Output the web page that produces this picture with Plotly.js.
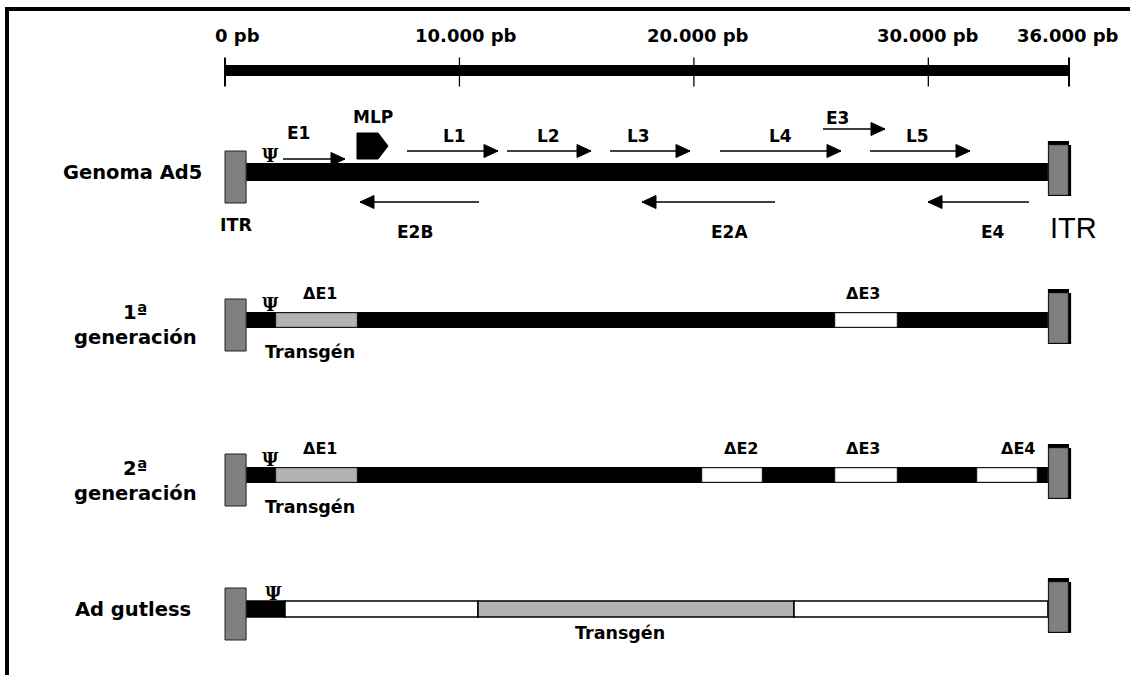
<!DOCTYPE html>
<html><head><meta charset="utf-8">
<script src="https://cdn.plot.ly/plotly-3.0.1.min.js"></script>
<style>html,body{margin:0;padding:0;background:#fff}#chart{width:1130px;height:675px}</style>
</head><body><div id="chart"></div>
<script>
// ---------- data (base pairs) ----------
const genomeLength = 36000;
const scaleTicks = [0, 10000, 20000, 30000, 36000];
const scaleLabels = ['0 pb', '10.000 pb', '20.000 pb', '30.000 pb', '36.000 pb'];
const itrSize = 900;

const rowNames = ['Genoma Ad5', '1ª<br>generación', '2ª<br>generación', 'Ad gutless'];

const fwdNames = ['E1', 'L1', 'L2', 'L3', 'L4', 'E3', 'L5'];
const fwdStart = [2474, 7763, 12028, 16422, 21114, 25507, 27512];
const fwdEnd = [5118, 11645, 15612, 19835, 26275, 28152, 31777];
const fwdLabelPos = [3114, 9768, 13778, 17616, 23673, 26105, 29517];

const revNames = ['E2B', 'E2A', 'E4'];
const revStart = [10834, 23460, 34294];
const revEnd = [5758, 17787, 29986];
const revLabelPos = [8104, 21540, 32758];

const mlpStart = 5630, mlpEnd = 6953;
const psiPos = [1920, 1960, 1960, 2060];

const gen1Names = ['ΔE1', 'ΔE3'];
const gen1Start = [2175, 26019];
const gen1End = [5630, 28664];
const gen1LabelPos = [4052, 27214];

const gen2Names = ['ΔE1', 'ΔE2', 'ΔE3', 'ΔE4'];
const gen2Start = [2175, 20346, 26019, 32076];
const gen2End = [5630, 22905, 28664, 34635];
const gen2LabelPos = [4052, 22010, 27214, 33825];

const transgeneLabelPos = [3626, 16850];

const gutlessKind = ['genoma', 'relleno', 'transgén', 'relleno'];
const gutlessStart = [900, 2559, 10792, 24270];
const gutlessEnd = [2559, 10792, 24270, 35100];

// ---------- layout constants (pixels on the y axis) ----------
const rowY = [172, 320, 475, 609];
const scaleY = 70.5;
const FONT = '"DejaVu Sans", Verdana, sans-serif';
const FONT_R = '"Liberation Sans", Arial, sans-serif';
const GRAY_ITR = '#808080', GRAY_TG = '#b3b3b3';

const shapes = [];
const ann = [];

function rect(x0, x1, y0, y1, fill, lineColor, lw) {
  shapes.push({type: 'rect', xref: 'x', yref: 'y', x0, x1, y0, y1,
    fillcolor: fill, line: {color: lineColor || fill, width: lw === undefined ? 0 : lw}, layer: 'above'});
}
function line(x0, x1, y0, y1, w) {
  shapes.push({type: 'line', xref: 'x', yref: 'y', x0, x1, y0, y1, line: {color: '#000', width: w}, layer: 'above'});
}
function head(x, y, dir) {
  const p = dir > 0 ? 'M0,0 L-14,6.5 L-14,-6.5 Z' : 'M0,0 L14,6.5 L14,-6.5 Z';
  shapes.push({type: 'path', xref: 'x', yref: 'y', xsizemode: 'pixel', ysizemode: 'pixel',
    xanchor: x, yanchor: y, path: p, fillcolor: '#000', line: {color: '#000', width: 1}, layer: 'above'});
}
function txt(x, y, text, size, opts) {
  opts = opts || {};
  ann.push(Object.assign({x, y, xref: 'x', yref: 'y', text, showarrow: false,
    xanchor: 'center', yanchor: 'middle',
    font: {family: opts.family || FONT, size, color: '#000', weight: opts.weight || 'bold'}}, opts.extra || {}));
}
const PSI_FONT = '"DejaVu Serif", serif';

// ---------- outer frame ----------
shapes.push({type: 'rect', xref: 'paper', yref: 'paper', x0: 5 / 1130, x1: 1, y0: 1 - 11 / 675, y1: 1 - 7 / 675,
  fillcolor: '#000', line: {width: 0}});
shapes.push({type: 'rect', xref: 'paper', yref: 'paper', x0: 5 / 1130, x1: 9 / 1130, y0: 0, y1: 1 - 7 / 675,
  fillcolor: '#000', line: {width: 0}});

// ---------- scale bar ----------
rect(0, genomeLength, scaleY - 5.5, scaleY + 5.5, '#000');
const scaleShift = [12, 7, 4, 0, -1];
scaleTicks.forEach((t, i) => {
  const end = (i === 0 || i === scaleTicks.length - 1);
  line(t, t, scaleY - 13, scaleY + 16, end ? 2 : 1.3);
  txt(t, 35, scaleLabels[i], 18, {extra: {xshift: scaleShift[i]}});
});

// ---------- ITRs ----------
function itrs(y) {
  rect(0, itrSize, y - 21, y + 31, GRAY_ITR, '#222', 1);
  const e = genomeLength, s = genomeLength - itrSize;
  rect(s, e, y - 31, y + 24, '#000');
  rect(e, e + 90, y - 27, y + 24, '#000');
  rect(s + 40, e - 40, y - 27, y + 23, GRAY_ITR, '#333', 0.5);
}

// ---------- row labels ----------
const labelX = [132, 135, 135, 133];
rowNames.forEach((n, i) => {
  ann.push({x: labelX[i] / 1130, y: i === 1 ? 325 : (i === 2 ? 481 : rowY[i]), xref: 'paper', yref: 'y', text: n,
    showarrow: false, xanchor: 'center', yanchor: 'middle',
    font: {family: FONT, size: 19.5, color: '#000', weight: 'bold'}});
});

// ---------- Row 0: Genoma Ad5 ----------
(function () {
  const y = rowY[0];
  rect(itrSize, genomeLength - itrSize, y - 9, y + 9, '#000');
  itrs(y);
  txt(psiPos[0], y - 17, 'Ψ', 18, {family: PSI_FONT});
  fwdNames.forEach((n, i) => {
    const ly = n === 'E1' ? 159 : (n === 'E3' ? 129 : 151);
    const lab = n === 'E1' ? 133 : (n === 'E3' ? 118 : 136);
    line(fwdStart[i], fwdEnd[i], ly, ly, 1.3);
    head(fwdEnd[i], ly, 1);
    txt(fwdLabelPos[i], lab, n, 17);
  });
  revNames.forEach((n, i) => {
    line(revStart[i], revEnd[i], 202, 202, 1.3);
    head(revEnd[i], 202, -1);
    txt(revLabelPos[i], 232, n, 17);
  });
  const sh = mlpStart + 0.68 * (mlpEnd - mlpStart);
  shapes.push({type: 'path', xref: 'x', yref: 'y',
    path: `M${mlpStart},133 L${sh},133 L${mlpEnd},146 L${sh},159 L${mlpStart},159 Z`,
    fillcolor: '#000', line: {color: '#000', width: 1}, layer: 'above'});
  txt((mlpStart + mlpEnd) / 2, 117, 'MLP', 17);
  txt(itrSize / 2, 225, 'ITR', 17.5);
  ann.push({x: genomeLength - itrSize, y: 228, xref: 'x', yref: 'y', text: 'ITR', showarrow: false,
    xanchor: 'left', yanchor: 'middle', font: {family: FONT_R, size: 29, color: '#000'}});
})();

// ---------- generation rows ----------
function genRow(y, names, starts, ends, labels) {
  rect(itrSize, genomeLength - itrSize, y - 8, y + 8, '#000');
  itrs(y);
  names.forEach((n, i) => {
    const isTg = n === 'ΔE1';
    rect(starts[i], ends[i], y - 7, y + 7, isTg ? GRAY_TG : '#fff', '#555', 0.6);
    txt(labels[i], y - 27, n, 16);
  });
  txt(psiPos[1], y - 16, 'Ψ', 18, {family: PSI_FONT});
  txt(transgeneLabelPos[0], y + 32, 'Transgén', 17.5);
}
genRow(rowY[1], gen1Names, gen1Start, gen1End, gen1LabelPos);
genRow(rowY[2], gen2Names, gen2Start, gen2End, gen2LabelPos);

// ---------- Ad gutless ----------
(function () {
  const y = rowY[3];
  gutlessKind.forEach((k, i) => {
    const fill = k === 'genoma' ? '#000' : (k === 'transgén' ? GRAY_TG : '#fff');
    rect(gutlessStart[i], gutlessEnd[i], y - 8, y + 8, fill, '#000', 1.5);
  });
  itrs(y);
  txt(psiPos[3], y - 16, 'Ψ', 18, {family: PSI_FONT});
  txt(transgeneLabelPos[1], y + 24, 'Transgén', 17.5);
})();

const k = 844 / 36000;
const xmin = -225 / k, xmax = xmin + 1130 / k;

Plotly.newPlot('chart', [], {
  width: 1130, height: 675,
  margin: {l: 0, r: 0, t: 0, b: 0},
  paper_bgcolor: '#fff', plot_bgcolor: '#fff',
  xaxis: {range: [xmin, xmax], visible: false, fixedrange: true},
  yaxis: {range: [675, 0], visible: false, fixedrange: true},
  shapes, annotations: ann, showlegend: false
}, {staticPlot: true, displayModeBar: false});
</script>
</body></html>
